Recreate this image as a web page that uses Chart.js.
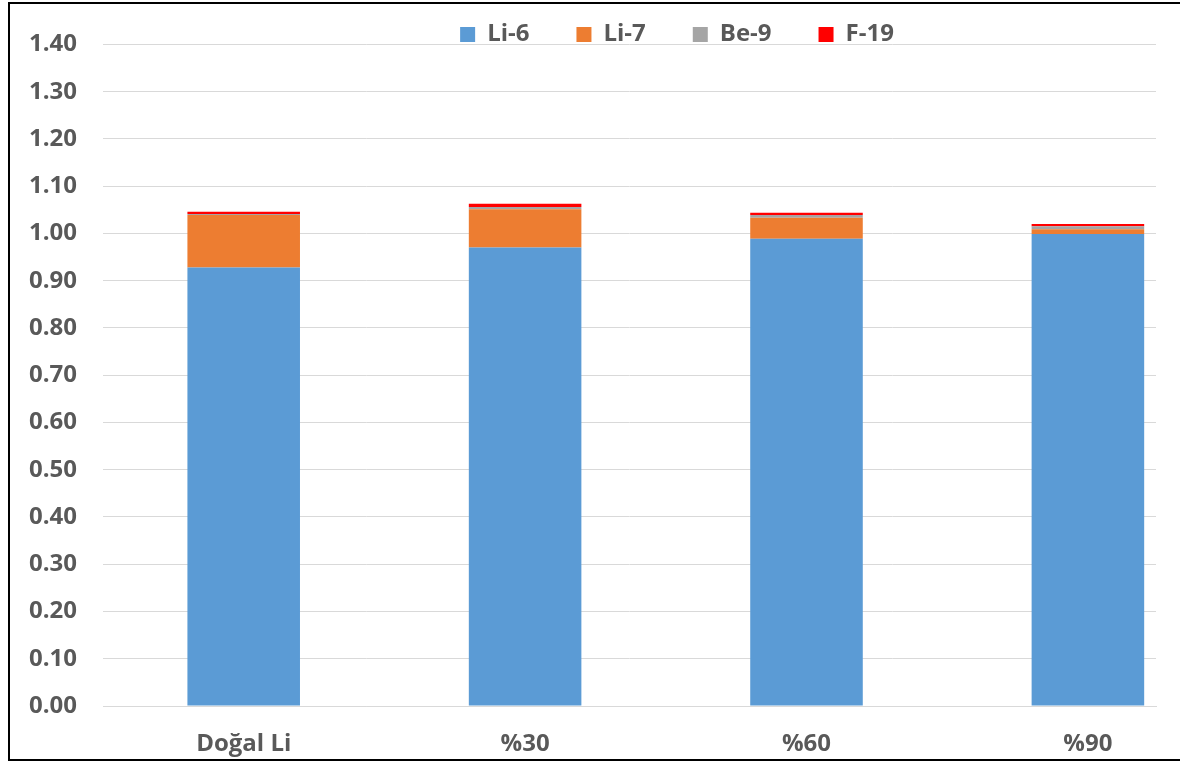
<!DOCTYPE html>
<html>
<head>
<meta charset="utf-8">
<script src="https://cdn.jsdelivr.net/npm/chart.js"></script>
<style>
  html, body { margin: 0; padding: 0; background: #fff; overflow: hidden; }
  #frame {
    position: absolute; left: 8px; top: 2px;
    width: 1180px; height: 755px;
    border: 2px solid #000; overflow: hidden;
  }
  #enrichChart { display: block; }
</style>
</head>
<body>
<div id="frame"><canvas id="enrichChart" width="1170" height="755"></canvas></div>
<script>
// isotope shares per enrichment level
const categories = ["Doğal Li", "%30", "%60", "%90"];
const li6 = [0.928, 0.970, 0.989, 0.999];
const li7 = [0.111, 0.081, 0.044, 0.010];
const be9 = [0.002, 0.005, 0.006, 0.006];
const f19 = [0.005, 0.007, 0.005, 0.005];

const textColor = "#595959";
const gridColor = "#d9d9d9";
const font = { family: "'Open Sans', 'Liberation Sans', sans-serif", size: 24, weight: "bold" };

// bars sit on a numeric x axis (index = category) so the plot can end right after the last bar
const points = arr => arr.map((v, i) => ({ x: i, y: v }));

const series = [
    { label: "Li-6", data: li6, color: "#5b9bd5" },
    { label: "Li-7", data: li7, color: "#ed7d31" },
    { label: "Be-9", data: be9, color: "#a5a5a5" },
    { label: "F-19", data: f19, color: "#ff0000" }
];

// move the legend row to where it belongs over the plot
// (the legend clips to its own box, so the box is grown downwards as well)
const legendNudge = {
    id: "legendNudge",
    afterLayout(chart) {
        const lg = chart.legend;
        lg.left += 94; lg.right += 94;
        lg.top -= 31; lg.bottom += 60;
    }
};

new Chart(document.getElementById("enrichChart"), {
    type: "bar",
    data: {
        datasets: series.map(s => ({
            label: s.label,
            data: points(s.data),
            backgroundColor: s.color,
            borderWidth: 0,
            barPercentage: 0.4,
            categoryPercentage: 1.0
        }))
    },
    options: {
        responsive: false,
        animation: false,
        layout: { padding: { left: 0, right: 24, top: 0, bottom: 0 } },
        plugins: {
            tooltip: { enabled: false },
            legend: {
                position: "top",
                maxHeight: 38,
                labels: {
                    color: textColor,
                    font: font,
                    boxWidth: 15,
                    boxHeight: 15,
                    padding: 47
                }
            }
        },
        scales: {
            x: {
                type: "linear",
                stacked: true,
                offset: false,
                min: -0.5,
                max: 3.242,
                grid: { display: false },
                border: { display: true, color: gridColor, width: 1 },
                afterBuildTicks: s => { s.ticks = categories.map((_, i) => ({ value: i })); },
                afterFit: s => { s.height = 53; },
                ticks: {
                    color: textColor,
                    font: font,
                    padding: 16,
                    autoSkip: false,
                    maxRotation: 0,
                    callback: v => categories[v]
                }
            },
            y: {
                stacked: true,
                min: 0,
                max: 1.4,
                grid: { color: gridColor, lineWidth: 1, drawTicks: false },
                border: { display: false },
                afterFit: s => { s.width = 93; },
                ticks: {
                    stepSize: 0.1,
                    color: textColor,
                    font: font,
                    padding: 26,
                    callback: v => v.toFixed(2)
                }
            }
        }
    },
    plugins: [legendNudge]
});
</script>
</body>
</html>
